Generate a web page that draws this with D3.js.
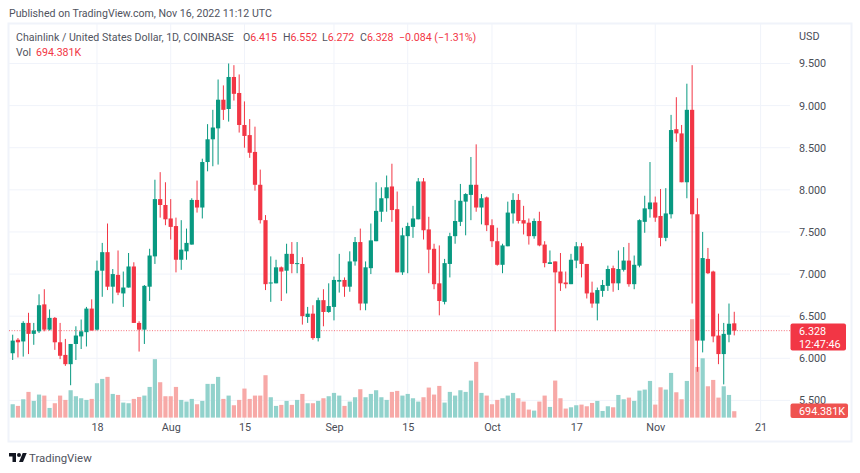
<!DOCTYPE html>
<html>
<head>
<meta charset="utf-8">
<script src="https://cdnjs.cloudflare.com/ajax/libs/d3/7.8.5/d3.min.js"></script>
<style>
  html, body { margin: 0; padding: 0; background: #fff; }
  svg { display: block; }
  text { font-family: Roboto, "Open Sans", sans-serif; }
  .axis path, .axis line { display: none; }
  .axis text { font-size: 10.8px; fill: #4a4d57; font-family: Roboto, "Open Sans", sans-serif; }
</style>
</head>
<body>
<svg width="860" height="473"></svg>
<script>
// one candle per day, starting 2 Jul 2022
const firstDay = "2022-07-02"

const open = [6.06,6.22,6.20,6.42,6.29,6.32,6.64,6.34,6.48,6.19,6.04,5.93,6.17,6.26,6.31,6.59,6.34,7.04,7.26,6.85,
  6.99,6.77,6.84,7.09,6.42,6.34,6.85,7.21,7.89,7.82,7.66,7.57,7.17,7.27,7.35,7.88,7.79,8.33,8.60,8.73,
  9.07,8.96,9.34,9.15,8.77,8.65,8.45,8.06,7.64,6.89,6.89,7.08,7.04,7.24,7.12,7.12,6.49,6.53,6.24,6.69,
  6.55,6.61,6.91,6.93,6.85,7.15,7.38,6.65,7.07,7.39,7.74,7.90,8.04,7.77,7.02,7.45,7.56,7.65,8.10,7.53,
  7.30,6.89,6.67,7.12,7.45,7.62,7.86,7.94,8.06,7.79,7.91,7.58,7.39,7.11,7.33,7.72,7.88,7.64,7.61,7.45,
  7.63,7.35,7.12,7.15,7.03,6.90,6.88,7.16,7.33,7.12,6.78,6.65,6.80,6.86,7.07,6.89,7.05,7.16,6.88,7.10,
  7.62,7.77,7.85,7.69,7.43,7.71,8.72,8.67,8.09,8.95,7.71,6.21,7.18,7.03,6.27,6.05,6.28,6.415]

const high = [6.28,6.24,6.44,6.54,6.42,6.76,6.82,6.58,6.49,6.42,6.23,6.17,6.38,6.46,6.61,6.70,7.16,7.37,7.60,7.06,
  7.28,7.03,7.25,7.14,6.44,6.87,7.30,8.12,8.21,8.09,7.89,7.67,7.64,7.54,7.90,8.11,8.37,8.78,8.95,9.31,
  9.24,9.50,9.48,9.37,9.05,8.84,8.75,8.24,7.70,7.21,7.17,7.09,7.36,7.38,7.38,7.20,6.61,6.63,6.72,6.82,
  6.89,6.97,7.24,6.96,7.27,7.44,7.54,7.15,7.60,8.09,8.03,8.17,8.31,7.98,7.55,7.61,7.81,8.14,8.14,7.68,
  7.36,7.34,7.18,7.49,7.88,8.07,7.96,8.39,8.54,7.95,7.92,7.65,7.55,7.36,7.86,7.96,7.95,7.81,7.66,7.66,
  7.74,7.39,7.28,7.15,7.25,7.03,7.24,7.38,7.37,7.12,6.91,6.84,6.93,7.10,7.10,7.28,7.32,7.37,7.22,7.65,
  7.93,8.33,7.92,8.01,8.02,8.89,9.10,8.77,9.26,9.48,7.90,7.50,7.31,7.04,6.53,6.42,6.65,6.552]

const low = [5.98,6.01,6.02,6.05,6.16,6.30,6.32,6.33,6.10,5.99,5.91,5.68,5.98,6.11,6.14,6.33,6.33,6.73,6.81,6.65,
  6.75,6.61,6.84,6.42,6.08,6.17,6.68,7.12,7.67,7.58,7.41,7.02,7.05,7.17,7.35,7.73,7.66,8.22,8.28,8.30,
  8.83,8.81,9.06,8.68,8.50,8.38,7.99,7.60,6.81,6.67,6.89,6.68,6.77,7.01,7.01,6.40,6.42,6.22,6.20,6.38,
  6.54,6.45,6.78,6.73,6.79,7.10,6.57,6.57,7.00,7.39,7.62,7.74,7.62,7.02,6.99,7.01,7.43,7.65,7.41,7.01,
  6.82,6.51,6.64,6.96,7.36,7.57,7.46,7.64,7.74,7.59,7.51,7.32,7.10,7.01,7.33,7.60,7.60,7.47,7.35,7.42,
  7.33,7.08,7.12,6.32,6.80,6.83,6.88,7.07,6.96,6.71,6.60,6.45,6.73,6.80,6.79,6.81,7.03,6.85,6.82,7.08,
  7.49,7.67,7.62,7.33,7.39,7.66,8.57,8.09,7.90,6.65,5.84,6.07,7.00,6.19,5.93,5.69,6.19,6.272]

const close = [6.21,6.19,6.42,6.29,6.33,6.63,6.34,6.48,6.19,6.03,5.93,6.17,6.27,6.32,6.59,6.33,7.04,7.26,6.85,7.00,
  6.78,6.84,7.09,6.42,6.34,6.86,7.22,7.89,7.82,7.65,7.56,7.17,7.29,7.37,7.88,7.79,8.33,8.60,8.74,9.07,
  8.95,9.34,9.14,8.77,8.64,8.44,8.06,7.64,6.88,6.90,7.08,7.03,7.24,7.12,7.13,6.50,6.53,6.24,6.69,6.55,
  6.62,6.93,6.93,6.85,7.15,7.38,6.65,7.08,7.40,7.75,7.90,8.03,7.76,7.02,7.46,7.57,7.66,8.10,7.52,7.29,
  6.88,6.68,7.13,7.45,7.63,7.87,7.95,8.06,7.79,7.90,7.58,7.39,7.11,7.34,7.73,7.88,7.63,7.60,7.45,7.63,
  7.34,7.13,7.14,7.02,6.89,6.88,7.17,7.33,7.12,6.77,6.65,6.81,6.87,7.06,6.89,7.06,7.16,6.88,7.11,7.64,
  7.78,7.85,7.67,7.43,7.72,8.71,8.67,8.09,8.95,7.71,6.21,7.19,7.01,6.26,6.05,6.29,6.41,6.328]

// millions
const volume = [1.45,1.27,1.99,2.79,1.81,2.50,2.39,1.05,1.56,2.39,1.92,2.97,2.32,2.10,1.92,2.03,3.73,4.20,4.42,2.57,
  2.46,1.63,1.56,2.03,2.24,2.39,3.33,6.34,3.84,2.32,2.32,3.33,1.92,1.74,2.03,1.45,1.81,3.66,3.66,4.42,
  2.03,2.39,1.34,1.92,3.15,2.03,2.39,2.39,4.60,2.21,1.27,1.38,1.81,1.38,1.92,2.57,1.56,1.56,1.81,2.10,
  2.32,2.68,2.39,1.27,1.74,2.21,3.08,2.21,2.57,2.97,2.21,1.92,2.79,2.90,2.39,2.57,2.10,1.74,2.21,3.26,
  2.50,3.44,1.63,2.79,2.39,2.97,2.79,4.02,6.05,2.68,2.39,1.45,1.92,2.10,2.39,2.68,2.10,1.74,0.87,0.76,
  1.74,2.39,1.16,4.02,2.10,0.98,1.12,1.34,1.41,1.23,1.59,1.81,0.72,1.23,1.12,2.46,1.99,2.17,1.81,2.93,
  3.04,3.98,1.41,3.29,3.04,4.85,2.75,1.99,3.98,10.68,5.50,6.44,3.40,4.09,2.17,3.40,2.46,0.694]

const priceTicks = [9.5,9,8.5,8,7.5,7,6.5,6,5.5]
const dateTicks = ["2022-07-18","2022-08-01","2022-08-15","2022-09-01","2022-09-15","2022-10-01","2022-10-17","2022-11-01","2022-11-21"]
const dateLabels = ["18","Aug","15","Sep","15","Oct","17","Nov","21"]
const lastClose = 6.328

const green = "#089981"
const red = "#f23645"
const gridColor = "#f0f3fa"
const textColor = "#50535e"
const fontSize = 10.6

const parse = d3.utcParse("%Y-%m-%d")
const start = parse(firstDay)
const candles = open.map((o, i) => ({
  date: d3.utcDay.offset(start, i),
  open: o, high: high[i], low: low[i], close: close[i], volume: volume[i],
  up: close[i] >= o
}))
const tickDates = dateTicks.map(parse)

const x = d3.scaleUtc().domain([start, tickDates[8]]).range([12.7, 760.6])
const y = d3.scaleLinear().domain([5.5, 9.5]).range([400.4, 63.5])
const yVol = d3.scaleLinear().domain([0, 10.68]).range([417.6, 319.2])

const svg = d3.select("svg")

// outer frame
svg.append("rect")
  .attr("x", 8.5).attr("y", 23.5)
  .attr("width", 843).attr("height", 418)
  .attr("fill", "none")
  .attr("stroke", gridColor)
  .attr("stroke-width", 2)

// grid
svg.append("g").selectAll("line")
  .data(priceTicks)
  .enter().append("line")
  .attr("x1", 9).attr("x2", 790)
  .attr("y1", d => y(d)).attr("y2", d => y(d))
  .attr("stroke", gridColor)

svg.append("g").selectAll("line")
  .data(tickDates)
  .enter().append("line")
  .attr("x1", d => x(d)).attr("x2", d => x(d))
  .attr("y1", 24).attr("y2", 424)
  .attr("stroke", gridColor)

// volume goes behind the candles
svg.append("g").selectAll("rect")
  .data(candles)
  .enter().append("rect")
  .attr("x", d => x(d.date) - 2.1)
  .attr("width", 4.2)
  .attr("y", d => yVol(d.volume))
  .attr("height", d => yVol(0) - yVol(d.volume))
  .attr("fill", d => d.up ? "#92d2cc" : "#f7a9a7")

// last price line
svg.append("line")
  .attr("x1", 9).attr("x2", 790)
  .attr("y1", y(lastClose)).attr("y2", y(lastClose))
  .attr("stroke", red)
  .attr("stroke-opacity", 0.7)
  .attr("stroke-dasharray", "1,1.6")

const candle = svg.append("g").selectAll("g")
  .data(candles)
  .enter().append("g")

candle.append("line")
  .attr("x1", d => x(d.date)).attr("x2", d => x(d.date))
  .attr("y1", d => y(d.high)).attr("y2", d => y(d.low))
  .attr("stroke", d => d.up ? green : red)
  .attr("stroke-width", 1)

candle.append("rect")
  .attr("x", d => x(d.date) - 2.1)
  .attr("width", 4.2)
  .attr("y", d => y(Math.max(d.open, d.close)))
  .attr("height", d => Math.max(1, Math.abs(y(d.open) - y(d.close))))
  .attr("fill", d => d.up ? green : red)

// axes
svg.append("g")
  .attr("class", "axis")
  .attr("transform", "translate(799, 0)")
  .call(d3.axisRight(y).tickValues(priceTicks).tickSize(0).tickPadding(0).tickFormat(d3.format(".3f")))

svg.append("g")
  .attr("class", "axis")
  .attr("transform", "translate(0, 423)")
  .call(d3.axisBottom(x).tickValues(tickDates).tickSize(0).tickPadding(0).tickFormat((d, i) => dateLabels[i]))

svg.append("text")
  .attr("x", 799).attr("y", 39.5)
  .attr("font-size", 10.8).attr("fill", "#4a4d57")
  .text("USD")

// price labels on the axis
svg.append("rect")
  .attr("x", 790.5).attr("y", 323.5).attr("width", 55.5).attr("height", 27)
  .attr("rx", 2).attr("fill", red)
svg.append("text").attr("x", 799).attr("y", 335)
  .attr("font-size", 10.8).attr("fill", "#fff").text("6.328")
svg.append("text").attr("x", 799).attr("y", 347.5)
  .attr("font-size", 10.8).attr("fill", "#fff").text("12:47:46")
svg.append("rect")
  .attr("x", 790.5).attr("y", 403.5).attr("width", 57.5).attr("height", 14.5)
  .attr("rx", 2).attr("fill", "#ef5350")
svg.append("text").attr("x", 799).attr("y", 414.5)
  .attr("font-size", 10.8).attr("fill", "#fff").text("694.381K")

// headers
svg.append("text").attr("x", 9).attr("y", 17)
  .attr("font-size", fontSize).attr("fill", textColor)
  .text("Published on TradingView.com, Nov 16, 2022 11:12 UTC")

svg.append("text").attr("x", 16).attr("y", 40.5)
  .attr("font-size", fontSize).attr("fill", textColor)
  .text("Chainlink / United States Dollar, 1D, COINBASE")

const ohlcLegend = [["O", 243], ["H", 283], ["L", 322], ["C", 360]]
const ohlcValues = ["6.415", "6.552", "6.272", "6.328"]
ohlcLegend.forEach((d, i) => {
  const t = svg.append("text").attr("x", d[1]).attr("y", 40.5).attr("font-size", fontSize)
  t.append("tspan").attr("fill", textColor).text(d[0])
  t.append("tspan").attr("fill", red).text(ohlcValues[i])
})
svg.append("text").attr("x", 399).attr("y", 40.5)
  .attr("font-size", fontSize).attr("fill", red).text("\u22120.084 (\u22121.31%)")

svg.append("text").attr("x", 16).attr("y", 55.5)
  .attr("font-size", fontSize).attr("fill", textColor).text("Vol")
svg.append("text").attr("x", 36).attr("y", 55.5)
  .attr("font-size", fontSize).attr("fill", red).text("694.381K")

// logo
const logo = svg.append("g").attr("transform", "translate(9, 451) scale(0.5)").attr("fill", "#131722")
logo.append("path").attr("d", "M14 22H7V11H0V4h14v18zM28 22h-8l7.5-18h8L28 22z")
logo.append("circle").attr("cx", 20).attr("cy", 8).attr("r", 4)
svg.append("text").attr("x", 29).attr("y", 462)
  .attr("font-size", 11.4).attr("fill", textColor).text("TradingView")
</script>
</body>
</html>
